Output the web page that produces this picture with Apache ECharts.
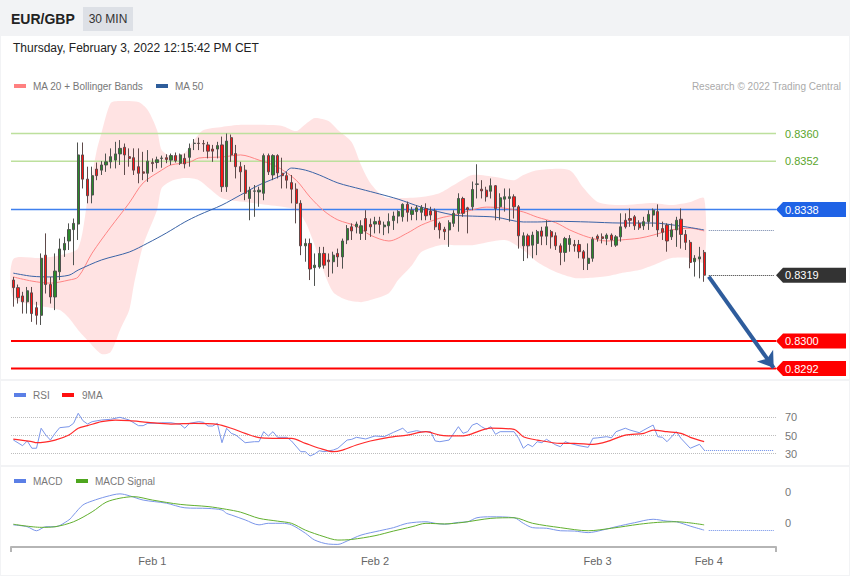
<!DOCTYPE html>
<html>
<head>
<meta charset="utf-8">
<title>EUR/GBP 30 MIN</title>
<script src="https://cdn.jsdelivr.net/npm/echarts@6/dist/echarts.min.js"></script>
<style>
html, body { margin: 0; padding: 0; background: #f2f3f5; }
#chart { width: 850px; height: 576px; }
</style>
</head>
<body>
<div id="chart"></div>
<script>
const FONT = "'Liberation Sans', Arial, Helvetica, sans-serif";

// ---------- categories (30-minute slots) & axis ticks ----------
const SLOTS = 165;
const categories = [];
for (let i = 0; i < SLOTS; i++) {
  const d = new Date(Date.UTC(2022, 0, 31, 9, 0) + i * 1800000);
  categories.push(d.toISOString().slice(0, 16).replace('T', ' '));
}
const xTickIndex = [30, 78, 126, 150];
const xTickLabels = ['Feb 1', 'Feb 2', 'Feb 3', 'Feb 4'];

// ---------- candles [open, high, low, close] ----------
const ohlc = [
[0.83176,0.83185,0.83099,0.83154],[0.83154,0.83163,0.83108,0.83125],[0.83130,0.83142,0.83079,0.83113],
[0.83113,0.83156,0.83079,0.83145],[0.83139,0.83156,0.83055,0.83079],[0.83096,0.83113,0.83047,0.83074],
[0.83074,0.83253,0.83046,0.83239],[0.83248,0.83311,0.83137,0.83163],[0.83163,0.83185,0.83108,0.83127],
[0.83127,0.83253,0.83089,0.83202],[0.83200,0.83296,0.83176,0.83266],[0.83263,0.83301,0.83243,0.83282],
[0.83289,0.83340,0.83263,0.83322],[0.83322,0.83354,0.83219,0.83340],[0.83338,0.83574,0.83292,0.83538],
[0.83538,0.83574,0.83441,0.83468],[0.83468,0.83504,0.83398,0.83420],[0.83422,0.83504,0.83398,0.83478],
[0.83497,0.83516,0.83465,0.83478],[0.83494,0.83520,0.83480,0.83509],[0.83509,0.83542,0.83489,0.83518],
[0.83518,0.83557,0.83499,0.83533],[0.83523,0.83576,0.83499,0.83541],[0.83541,0.83581,0.83509,0.83557],
[0.83560,0.83571,0.83480,0.83538],[0.83533,0.83557,0.83504,0.83528],[0.83530,0.83557,0.83480,0.83494],
[0.83504,0.83557,0.83456,0.83485],[0.83489,0.83547,0.83465,0.83485],[0.83485,0.83552,0.83460,0.83520],
[0.83516,0.83528,0.83489,0.83513],[0.83516,0.83533,0.83499,0.83524],[0.83528,0.83536,0.83501,0.83529],
[0.83530,0.83540,0.83514,0.83525],[0.83523,0.83542,0.83509,0.83536],[0.83536,0.83545,0.83516,0.83521],
[0.83514,0.83542,0.83509,0.83538],[0.83528,0.83542,0.83499,0.83512],[0.83531,0.83571,0.83504,0.83557],
[0.83571,0.83584,0.83552,0.83572],[0.83572,0.83588,0.83552,0.83571],[0.83571,0.83581,0.83547,0.83570],
[0.83567,0.83576,0.83528,0.83549],[0.83555,0.83567,0.83518,0.83549],[0.83555,0.83576,0.83528,0.83565],
[0.83567,0.83591,0.83431,0.83446],[0.83446,0.83600,0.83431,0.83578],[0.83588,0.83597,0.83518,0.83538],
[0.83542,0.83567,0.83470,0.83504],[0.83504,0.83518,0.83431,0.83489],[0.83494,0.83509,0.83407,0.83427],
[0.83412,0.83446,0.83349,0.83436],[0.83433,0.83451,0.83359,0.83434],[0.83431,0.83446,0.83388,0.83436],
[0.83427,0.83542,0.83407,0.83536],[0.83536,0.83542,0.83480,0.83489],[0.83480,0.83540,0.83465,0.83536],
[0.83536,0.83540,0.83470,0.83486],[0.83485,0.83530,0.83441,0.83478],[0.83478,0.83489,0.83441,0.83465],
[0.83458,0.83480,0.83398,0.83439],[0.83439,0.83456,0.83340,0.83398],[0.83398,0.83407,0.83248,0.83275],
[0.83275,0.83296,0.83229,0.83282],[0.83282,0.83296,0.83176,0.83208],[0.83212,0.83253,0.83159,0.83219],
[0.83214,0.83272,0.83209,0.83253],[0.83253,0.83272,0.83209,0.83219],[0.83234,0.83253,0.83185,0.83229],
[0.83229,0.83258,0.83195,0.83248],[0.83253,0.83267,0.83214,0.83243],[0.83243,0.83296,0.83209,0.83289],
[0.83292,0.83335,0.83280,0.83325],[0.83330,0.83340,0.83292,0.83318],[0.83330,0.83345,0.83311,0.83338],
[0.83311,0.83349,0.83292,0.83333],[0.83354,0.83378,0.83292,0.83318],[0.83337,0.83354,0.83301,0.83330],
[0.83338,0.83359,0.83311,0.83345],[0.83347,0.83359,0.83311,0.83337],[0.83330,0.83345,0.83306,0.83335],
[0.83333,0.83369,0.83311,0.83345],[0.83348,0.83374,0.83321,0.83361],[0.83361,0.83378,0.83340,0.83374],
[0.83359,0.83398,0.83345,0.83395],[0.83395,0.83403,0.83345,0.83372],[0.83366,0.83388,0.83349,0.83378],
[0.83374,0.83393,0.83349,0.83385],[0.83372,0.83393,0.83349,0.83386],[0.83383,0.83398,0.83349,0.83362],
[0.83376,0.83388,0.83349,0.83364],[0.83376,0.83383,0.83321,0.83330],[0.83340,0.83345,0.83296,0.83321],
[0.83323,0.83330,0.83292,0.83316],[0.83321,0.83349,0.83272,0.83342],[0.83340,0.83378,0.83330,0.83369],
[0.83369,0.83427,0.83316,0.83412],[0.83412,0.83417,0.83359,0.83369],[0.83385,0.83388,0.83311,0.83380],
[0.83388,0.83461,0.83378,0.83438],[0.83453,0.83511,0.83412,0.83454],[0.83439,0.83465,0.83412,0.83434],
[0.83436,0.83446,0.83403,0.83417],[0.83433,0.83470,0.83412,0.83449],[0.83449,0.83451,0.83349,0.83383],
[0.83388,0.83427,0.83349,0.83414],[0.83410,0.83441,0.83374,0.83417],[0.83412,0.83441,0.83345,0.83417],
[0.83417,0.83424,0.83354,0.83388],[0.83388,0.83393,0.83267,0.83304],[0.83275,0.83314,0.83231,0.83304],
[0.83304,0.83310,0.83239,0.83275],[0.83277,0.83316,0.83239,0.83306],[0.83282,0.83321,0.83248,0.83316],
[0.83318,0.83330,0.83277,0.83303],[0.83303,0.83349,0.83277,0.83330],[0.83316,0.83321,0.83267,0.83301],
[0.83304,0.83314,0.83263,0.83275],[0.83275,0.83282,0.83219,0.83256],[0.83256,0.83301,0.83229,0.83296],
[0.83279,0.83306,0.83258,0.83296],[0.83279,0.83292,0.83258,0.83275],[0.83279,0.83292,0.83239,0.83258],
[0.83258,0.83263,0.83205,0.83239],[0.83224,0.83282,0.83205,0.83239],[0.83239,0.83301,0.83229,0.83294],
[0.83303,0.83308,0.83287,0.83296],[0.83301,0.83311,0.83282,0.83296],[0.83296,0.83311,0.83277,0.83306],
[0.83306,0.83311,0.83272,0.83292],[0.83277,0.83306,0.83272,0.83301],[0.83301,0.83369,0.83287,0.83330],
[0.83349,0.83369,0.83325,0.83330],[0.83354,0.83383,0.83330,0.83349],[0.83359,0.83364,0.83321,0.83333],
[0.83340,0.83349,0.83321,0.83327],[0.83333,0.83359,0.83321,0.83345],[0.83345,0.83378,0.83321,0.83366],
[0.83364,0.83383,0.83330,0.83378],[0.83374,0.83395,0.83301,0.83321],[0.83325,0.83345,0.83292,0.83314],
[0.83335,0.83340,0.83258,0.83289],[0.83301,0.83340,0.83292,0.83321],[0.83321,0.83359,0.83272,0.83349],
[0.83352,0.83383,0.83267,0.83308],[0.83308,0.83321,0.83263,0.83285],[0.83285,0.83292,0.83210,0.83227],
[0.83229,0.83248,0.83186,0.83239],[0.83237,0.83272,0.83181,0.83243],[0.83256,0.83263,0.83171,0.83190]
];

// ---------- overlays [candle index, price] ----------
const ma20 = [[0,0.83185],[4,0.83173],[8,0.83167],[12,0.83176],[14,0.83185],[17,0.83254],[21,0.83329],[25,0.83399],[28,0.83457],[32,0.83494],[34,0.83509],[38,0.83517],[40,0.83529],[45,0.83532],[49,0.83538],[53,0.83523],[57,0.83503],[61,0.83465],[64,0.83416],[67,0.83376],[70,0.83350],[74,0.83332],[77,0.83306],[81,0.83289],[85,0.83312],[88,0.83335],[92,0.83355],[95,0.83364],[99,0.83379],[102,0.83387],[106,0.83384],[110,0.83373],[113,0.83358],[117,0.83342],[120,0.83321],[124,0.83300],[128,0.83289],[131,0.83292],[135,0.83297],[138,0.83306],[142,0.83321],[146,0.83326],[149,0.83318]];
const ma50 = [[0,0.83196],[4,0.83187],[8,0.83185],[12,0.83190],[14,0.83205],[19,0.83234],[25,0.83257],[29,0.83283],[33,0.83312],[37,0.83344],[40,0.83364],[45,0.83393],[49,0.83422],[53,0.83451],[58,0.83480],[60,0.83500],[63,0.83494],[66,0.83480],[70,0.83457],[75,0.83439],[79,0.83425],[83,0.83410],[88,0.83387],[95,0.83364],[99,0.83361],[104,0.83358],[110,0.83344],[113,0.83344],[117,0.83346],[124,0.83344],[131,0.83341],[138,0.83341],[144,0.83332],[149,0.83321]];
const bbUpper = [[0,0.83237],[6,0.83240],[10,0.83248],[14,0.83269],[16,0.83408],[18,0.83552],[19,0.83601],[21,0.83688],[23,0.83694],[27,0.83691],[29,0.83668],[31,0.83610],[32,0.83552],[34,0.83535],[37,0.83544],[39,0.83581],[41,0.83610],[45,0.83619],[49,0.83625],[53,0.83625],[58,0.83622],[61,0.83607],[63,0.83627],[65,0.83645],[68,0.83636],[70,0.83610],[73,0.83575],[75,0.83509],[77,0.83457],[80,0.83416],[83,0.83413],[88,0.83416],[92,0.83428],[95,0.83451],[99,0.83480],[104,0.83474],[108,0.83465],[110,0.83480],[113,0.83494],[120,0.83494],[123,0.83442],[126,0.83402],[131,0.83393],[138,0.83399],[142,0.83393],[146,0.83402],[149,0.83413]];
const bbLower = [[0,0.83124],[6,0.83101],[10,0.83089],[12,0.83066],[14,0.83031],[16,0.83002],[19,0.82962],[21,0.82968],[23,0.83031],[25,0.83089],[26,0.83162],[28,0.83277],[31,0.83379],[32,0.83442],[34,0.83462],[37,0.83471],[40,0.83465],[45,0.83413],[50,0.83402],[55,0.83393],[61,0.83379],[63,0.83344],[65,0.83277],[67,0.83199],[69,0.83141],[72,0.83118],[75,0.83112],[77,0.83118],[81,0.83138],[83,0.83176],[86,0.83219],[88,0.83257],[92,0.83277],[95,0.83277],[99,0.83277],[106,0.83292],[110,0.83263],[113,0.83228],[117,0.83199],[121,0.83182],[124,0.83182],[128,0.83187],[131,0.83196],[135,0.83205],[138,0.83219],[142,0.83240],[146,0.83240],[149,0.83228]];

// ---------- price levels ----------
const levelValues = [0.8360, 0.8352, 0.8338, 0.8319, 0.8300, 0.8292];
const levelLabels = ['0.8360', '0.8352', '0.8338', '0.8319', '0.8300', '0.8292'];
const levelKinds = ['target', 'target', 'pivot', 'last', 'support', 'support'];
const lastClose = 0.8319;
const arrowFrom = [150, 0.83186];
const arrowTo = [164, 0.82922];

// ---------- RSI panel [candle index, value] ----------
const rsi = [[0,45.1],[2,38.8],[3,44],[4,36],[5,36],[6,58],[7,50.5],[8,45],[9,52.4],[10,58.6],[12,59.7],[13,63.4],[14,74.4],[15,66.3],[16,62.6],[17,65.2],[19,67],[21,67.8],[23,70],[25,67],[27,60.8],[28,60.8],[29,63.4],[31,63.4],[32,64],[34,64],[36,62.3],[37,58],[38,63.4],[40,65.2],[41,64.5],[42,60.4],[43,60.4],[44,63.4],[45,42.1],[46,58],[47,52.4],[48,50.5],[50,42.1],[52,43.2],[53,43.2],[54,54.2],[55,49.5],[56,54.2],[57,48],[59,48],[60,44],[62,32.2],[63,32.2],[64,27.5],[65,29.7],[66,33.3],[67,32.2],[69,34],[70,36],[72,45],[73,45.8],[74,48],[76,46.2],[78,49.5],[80,48.7],[82,53.5],[84,58],[85,53.1],[87,55.3],[88,54.2],[90,54.2],[91,44],[92,43.2],[94,45],[96,59.7],[97,52.4],[98,54.2],[99,61.5],[100,63.4],[101,59.7],[102,56.8],[103,59.7],[104,51.3],[105,54.2],[108,54.2],[109,46.9],[110,36],[111,40.3],[112,37.7],[113,43.2],[114,42.1],[115,45.8],[117,39.6],[118,37.7],[119,43.2],[120,41.4],[122,38.8],[124,37],[125,46.9],[126,47.4],[128,48.7],[129,47.4],[130,54.2],[132,58],[133,56],[135,53.1],[136,56],[138,61.5],[139,48.7],[140,48],[141,43.2],[143,54.2],[144,46.9],[146,36],[148,40.3],[149,34]];
const rsiMa = [[0,46],[4,43.2],[5,42.1],[9,45],[12,50.5],[14,58],[16,60.8],[19,65.2],[22,67],[25,66.3],[29,64.5],[34,62.6],[39,63.4],[44,62.3],[47,58],[50,52.4],[53,47.6],[56,46.9],[60,46.9],[63,41.4],[66,36],[69,32.2],[71,34],[74,39.6],[77,44],[81,48],[85,50.5],[89,54.2],[92,50.5],[96,49.5],[98,50.5],[103,58],[108,56.8],[110,48.7],[113,45],[118,41.4],[121,41.4],[125,40.3],[128,43.2],[132,50.5],[136,52.4],[138,56],[141,54.2],[144,52.4],[146,48],[149,43.2]];

// ---------- MACD panel [candle index, value] ----------
const macd = [[0,-0.00006],[3,-0.00012],[5,-0.00025],[7,-0.00012],[9,-0.00012],[12,0.0001],[13,0.00026],[15,0.00058],[17,0.00071],[20,0.00085],[23,0.00094],[25,0.00088],[28,0.00074],[33,0.00064],[37,0.00049],[42,0.00047],[45,0.00042],[46,0.00031],[47,0.00026],[50,0.0001],[53,-0.00006],[55,-0.00001],[58,-0.00001],[60,-0.00006],[63,-0.00033],[65,-0.00055],[68,-0.00068],[70,-0.00069],[72,-0.00058],[75,-0.00039],[79,-0.00025],[82,-0.00015],[85,-0.00001],[89,0.00004],[91,-0.00001],[93,-0.00004],[96,0.00002],[98,0.00004],[100,0.00017],[103,0.0002],[108,0.00017],[110,-0.00001],[112,-0.00015],[115,-0.00017],[118,-0.00025],[121,-0.00026],[124,-0.00031],[127,-0.00023],[130,-0.00012],[134,0.00001],[138,0.00012],[141,0.00006],[143,0.00004],[146,-0.0001],[149,-0.00023]];
const macdSignal = [[0,-0.00004],[6,-0.00014],[9,-0.00012],[13,0.00004],[17,0.00036],[20,0.00067],[23,0.0008],[26,0.00085],[30,0.00074],[36,0.0006],[42,0.00053],[46,0.00044],[49,0.00035],[53,0.00015],[57,0.00006],[60,-0.00001],[63,-0.00023],[67,-0.00044],[70,-0.00055],[73,-0.00053],[78,-0.00041],[82,-0.00026],[86,-0.00012],[89,-0.00001],[93,-0.00003],[97,0.00002],[103,0.00015],[108,0.00017],[112,-0.00001],[118,-0.00015],[124,-0.00025],[129,-0.00017],[135,-0.00004],[139,0.00002],[143,0.00004],[149,-0.00006]];

// ---------- styles ----------
const levelStyle = {
  target:  { line: '#bde09d', width: 1.5, text: '#5aa52c', box: null },
  pivot:   { line: '#3f80ee', width: 1.5, text: '#ffffff', box: '#1f63e6' },
  last:    { line: null, text: '#ffffff', box: '#333333' },
  support: { line: '#ff0000', width: 2, text: '#ffffff', box: '#ff0000' }
};

const chart = echarts.init(document.getElementById('chart'), null, { renderer: 'svg' });

function txt(text, x, y, font, fill, align) {
  return { type: 'text', z: 100, silent: true, x: x, y: y,
    style: { text: text, font: font + ' ' + FONT, fill: fill,
      align: align || 'left', textAlign: align || 'left',
      verticalAlign: 'middle', textVerticalAlign: 'middle' } };
}
function swatch(x, y, color) {
  return { type: 'rect', z: 100, silent: true, shape: { x: x, y: y, width: 12, height: 4 }, style: { fill: color } };
}

const lastIdx = ohlc.length - 1;
const endSlot = SLOTS - 1;

const option = {
  animation: false,
  backgroundColor: '#f2f3f5',
  textStyle: { fontFamily: FONT },
  graphic: [
    { type: 'rect', z: -10, silent: true, shape: { x: 1, y: 36, width: 848, height: 343 }, style: { fill: '#ffffff' } },
    { type: 'rect', z: -10, silent: true, shape: { x: 1, y: 381, width: 848, height: 84 }, style: { fill: '#ffffff' } },
    { type: 'rect', z: -10, silent: true, shape: { x: 1, y: 467, width: 848, height: 108 }, style: { fill: '#ffffff' } },
    { type: 'rect', z: 99, silent: true, shape: { x: 83, y: 7, width: 50, height: 24 }, style: { fill: '#dde0e6' } },
    txt('EUR/GBP', 11, 19, 'bold 14px', '#222222'),
    txt('30 MIN', 108, 19, '12px', '#333333', 'center'),
    txt('Thursday, February 3, 2022 12:15:42 PM CET', 13, 48, '12px', '#222222'),
    swatch(14, 84, '#ff8080'), txt('MA 20 + Bollinger Bands', 33, 86, '10px', '#777777'),
    swatch(156, 84, '#2e5d9b'), txt('MA 50', 175, 86, '10px', '#777777'),
    txt('Research \u00a9 2022 Trading Central', 841, 86, '10px', '#aaaaaa', 'right'),
    swatch(14, 393, '#5b7fe6'), txt('RSI', 33, 395, '10px', '#777777'),
    swatch(62, 393, '#ff1010'), txt('9MA', 82, 395, '10px', '#777777'),
    swatch(14, 479, '#5b7fe6'), txt('MACD', 33, 481, '10px', '#777777'),
    swatch(76, 479, '#4ea61e'), txt('MACD Signal', 95, 481, '10px', '#777777')
  ],
  grid: [
    { left: 11, width: 765, top: 98.94, height: 276.5, containLabel: false, outerBoundsMode: 'none' },
    { left: 11, width: 765, top: 417.3, height: 36.4, containLabel: false, outerBoundsMode: 'none' },
    { left: 11, width: 765, top: 492, height: 62, containLabel: false, outerBoundsMode: 'none' }
  ],
  xAxis: [
    { gridIndex: 0, type: 'category', data: categories, boundaryGap: true, show: false },
    { gridIndex: 1, type: 'category', data: categories, boundaryGap: true, show: false },
    { gridIndex: 2, type: 'category', data: categories, boundaryGap: true, offset: -7,
      axisLine: { onZero: false, lineStyle: { color: '#b5b5b5', width: 2 } },
      axisTick: { show: true, interval: (i) => i === 0, length: 5, lineStyle: { color: '#b5b5b5', width: 2 } },
      axisLabel: { interval: (i) => xTickIndex.indexOf(i) >= 0,
        formatter: (v, i) => xTickLabels[xTickIndex.indexOf(i)] || '',
        color: '#666666', fontSize: 11, margin: 8, fontFamily: FONT },
      splitLine: { show: false } }
  ],
  yAxis: [
    { gridIndex: 0, type: 'value', min: 0.829, max: 0.837, show: false, splitLine: { show: false } },
    { gridIndex: 1, type: 'value', min: 30, max: 70, interval: 20, position: 'right',
      axisLine: { show: false }, axisTick: { show: false },
      axisLabel: { color: '#777777', fontSize: 11, margin: 9, fontFamily: FONT },
      splitLine: { show: true, lineStyle: { type: 'dotted', color: '#bdbdbd', width: 1 } } },
    { gridIndex: 2, type: 'value', min: -0.001, max: 0.001, interval: 0.001, position: 'right',
      axisLine: { show: false }, axisTick: { show: false },
      axisLabel: { color: '#777777', fontSize: 11, margin: 9, fontFamily: FONT, showMinLabel: false,
        formatter: (v) => Math.abs(v).toFixed(0) },
      splitLine: { show: false } }
  ],
  series: [
    { // Bollinger band
      type: 'custom', name: 'Bollinger', xAxisIndex: 0, yAxisIndex: 0, z: 1, silent: true,
      data: [bbUpper[0]],
      renderItem: function (params, api) {
        const pts = bbUpper.map((p) => api.coord(p))
          .concat(bbLower.slice().reverse().map((p) => api.coord(p)));
        return { type: 'polygon', shape: { points: pts, smooth: 0.25 }, style: { fill: 'rgba(255,0,0,0.11)' } };
      }
    },
    { // price levels & right-hand labels
      type: 'custom', name: 'Levels', xAxisIndex: 0, yAxisIndex: 0, z: 2, silent: true, clip: false,
      encode: { x: 0, y: 1 },
      data: levelValues.map((v) => [0, v]),
      renderItem: function (params, api) {
        const k = params.dataIndex;
        const st = levelStyle[levelKinds[k]];
        const y = api.coord([0, api.value(1)])[1];
        const cs = params.coordSys;
        const x0 = cs.x, x1 = cs.x + cs.width;
        const children = [];
        if (st.line) {
          children.push({ type: 'line', shape: { x1: x0, y1: y, x2: x1, y2: y }, style: { stroke: st.line, lineWidth: st.width } });
        }
        if (st.box) {
          children.push({ type: 'polygon', shape: { points: [[x1, y], [x1 + 7, y - 7.5], [x1 + 70, y - 7.5], [x1 + 70, y + 7.5], [x1 + 7, y + 7.5]] }, style: { fill: st.box } });
        }
        children.push({ type: 'text', x: x1 + 9, y: y,
          style: { text: levelLabels[k], fill: st.text, font: '11px ' + FONT,
            align: 'left', textAlign: 'left', verticalAlign: 'middle', textVerticalAlign: 'middle' } });
        return { type: 'group', children: children };
      }
    },
    { type: 'line', name: 'MA 20', xAxisIndex: 0, yAxisIndex: 0, z: 3, data: ma20, smooth: 0.3,
      showSymbol: false, silent: true, lineStyle: { color: '#ff8585', width: 1 } },
    { type: 'line', name: 'MA 50', xAxisIndex: 0, yAxisIndex: 0, z: 3, data: ma50, smooth: 0.3,
      showSymbol: false, silent: true, lineStyle: { color: '#3a63a6', width: 1 },
      markLine: { silent: true, symbol: ['none', 'none'], label: { show: false },
        lineStyle: { type: 'dotted', color: '#6f82a8', width: 1 },
        data: [[{ coord: [lastIdx + 1, ma50[ma50.length - 1][1]] }, { coord: [endSlot, ma50[ma50.length - 1][1]] }]] } },
    { type: 'candlestick', name: 'EUR/GBP', xAxisIndex: 0, yAxisIndex: 0, z: 5, silent: true,
      barWidth: 2.6,
      data: ohlc.map((d) => [d[0], d[3], d[2], d[1]]),
      itemStyle: { color: '#2a8a2a', color0: '#ff1414', borderColor: '#4f524f', borderColor0: '#5e4a4a', borderWidth: 1 },
      markLine: { silent: true, symbol: ['none', 'none'], label: { show: false },
        data: [
          [{ coord: [lastIdx + 1, lastClose], lineStyle: { type: 'dotted', color: '#333333', width: 1 } }, { coord: [endSlot, lastClose] }],
          [{ coord: arrowFrom, lineStyle: { type: 'solid', color: '#2e5c9c', width: 4 } }, { coord: arrowTo, symbol: 'arrow', symbolSize: 15 }]
        ] } },
    { type: 'line', name: 'RSI', xAxisIndex: 1, yAxisIndex: 1, data: rsi, clip: false,
      showSymbol: false, silent: true, lineStyle: { color: '#7b96ea', width: 1 },
      markLine: { silent: true, symbol: ['none', 'none'], label: { show: false },
        lineStyle: { type: 'dotted', color: '#6d8ee8', width: 1 },
        data: [[{ coord: [lastIdx, rsi[rsi.length - 1][1]] }, { coord: [endSlot, rsi[rsi.length - 1][1]] }]] } },
    { type: 'line', name: '9MA', xAxisIndex: 1, yAxisIndex: 1, data: rsiMa, clip: false, smooth: 0.3,
      showSymbol: false, silent: true, lineStyle: { color: '#ff2a2a', width: 1.2 } },
    { type: 'line', name: 'MACD', xAxisIndex: 2, yAxisIndex: 2, data: macd, clip: false, smooth: 0.3,
      showSymbol: false, silent: true, lineStyle: { color: '#7b96ea', width: 1 },
      markLine: { silent: true, symbol: ['none', 'none'], label: { show: false },
        lineStyle: { type: 'dotted', color: '#6d8ee8', width: 1 },
        data: [[{ coord: [lastIdx + 1, macd[macd.length - 1][1]] }, { coord: [endSlot, macd[macd.length - 1][1]] }]] } },
    { type: 'line', name: 'MACD Signal', xAxisIndex: 2, yAxisIndex: 2, data: macdSignal, clip: false, smooth: 0.3,
      showSymbol: false, silent: true, lineStyle: { color: '#62b02f', width: 1 } }
  ]
};
chart.setOption(option);
</script>
</body>
</html>
